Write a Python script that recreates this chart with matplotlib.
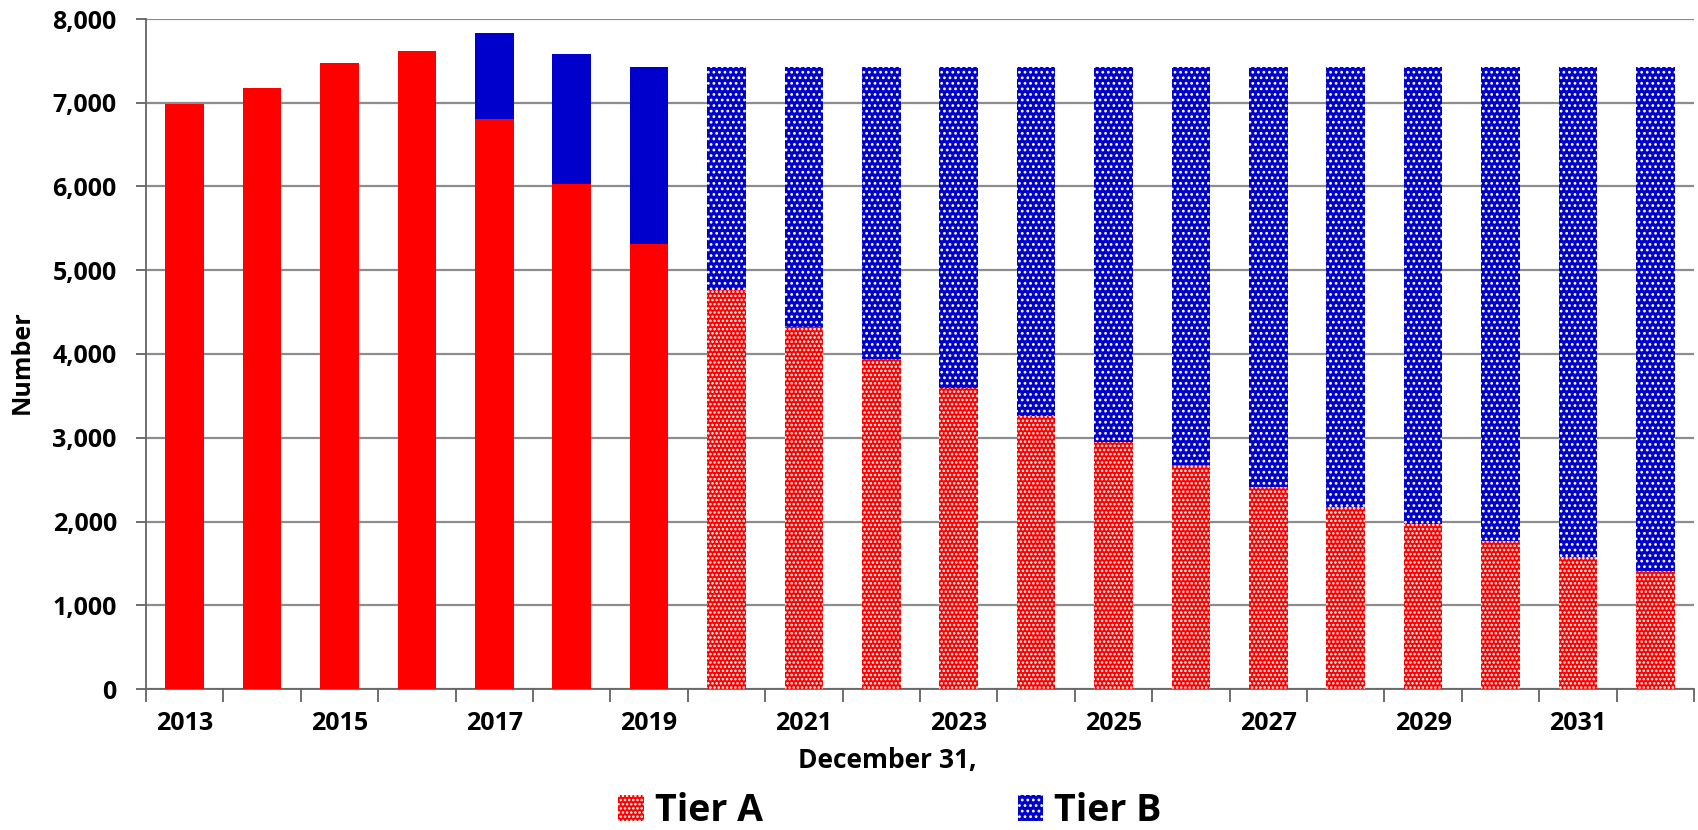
import matplotlib
matplotlib.use('Agg')
import matplotlib.pyplot as plt
from matplotlib.patches import Patch
from matplotlib.ticker import FuncFormatter

years = list(range(2013, 2033))
tier_a = [6990, 7180, 7475, 7620, 6805, 6030, 5315, 4760, 4325, 3935,
          3590, 3258, 2952, 2672, 2414, 2178, 1970, 1762, 1582, 1406]
tier_b = [0, 0, 0, 0, 1030, 1555, 2110, 2665, 3100, 3490,
          3835, 4167, 4473, 4753, 5011, 5247, 5455, 5663, 5843, 6019]
first_projected = 2020
year_labels = [str(y) if (y - 2013) % 2 == 0 else '' for y in years]

RED = '#ff0000'
BLUE = '#0000cc'
GRID = '#8c8c8c'

plt.rcParams['font.family'] = ['Open Sans', 'DejaVu Sans']
plt.rcParams['font.weight'] = 'bold'
plt.rcParams['hatch.linewidth'] = 1.2

fig = plt.figure(figsize=(16.98, 8.30), dpi=100)
ax = fig.add_axes([146 / 1698, 1 - 689 / 830, 1548 / 1698, 670 / 830])

x = list(range(len(years)))
for i, y in enumerate(years):
    proj = y >= first_projected
    ax.bar(i, tier_a[i], width=0.5, color=RED, edgecolor='white' if proj else RED,
           linewidth=0, hatch='....' if proj else None, zorder=3)
    if tier_b[i] > 0:
        ax.bar(i, tier_b[i], width=0.5, bottom=tier_a[i], color=BLUE,
               edgecolor='white' if proj else BLUE, linewidth=0,
               hatch='...' if proj else None, zorder=3)

ax.set_xlim(-0.5, len(years) - 0.5)
ax.set_ylim(0, 8000)
ax.set_yticks(range(0, 8001, 1000))
ax.yaxis.set_major_formatter(FuncFormatter(lambda v, p: f'{int(v):,}'))
ax.set_xticks(x)
ax.set_xticklabels(year_labels)
ax.set_xticks([i - 0.5 for i in range(len(years) + 1)], minor=True)
ax.tick_params(axis='x', which='major', length=0, pad=16, labelsize=18)
ax.tick_params(axis='x', which='minor', length=9, width=1.2, color='#555555')
ax.tick_params(axis='y', length=7, width=1.2, color='#555555', pad=14, labelsize=18)

ax.grid(axis='y', color=GRID, linewidth=1.6, zorder=0)
ax.set_axisbelow(True)
for s in ['top', 'right']:
    ax.spines[s].set_visible(False)
for s in ['left', 'bottom']:
    ax.spines[s].set_color('#666666')
    ax.spines[s].set_linewidth(1.3)

ax.set_xlabel('December 31,', fontsize=19, fontweight='bold')
ax.xaxis.set_label_coords((887 - 146) / 1548, -71 / 670)
ax.xaxis.label.set_va('center')
ax.set_ylabel('Number', fontsize=18, fontweight='bold')
ax.yaxis.set_label_coords((22 - 146) / 1548, (689 - 362) / 670)
ax.yaxis.label.set_va('center')

handles = [Patch(facecolor=RED, edgecolor='white', linewidth=0, hatch='....'),
           Patch(facecolor=BLUE, edgecolor='white', linewidth=0, hatch='...')]
fig.legend(handles, ['Tier A', 'Tier B'], loc='center', ncol=2,
           bbox_to_anchor=(890 / 1698, 1 - 811 / 830), frameon=False,
           prop={'size': 27, 'weight': 'bold'}, handlelength=0.67,
           handleheight=0.67, handletextpad=0.3, columnspacing=6.8,
           borderpad=0.2)

fig.savefig('out.png', dpi=100)
